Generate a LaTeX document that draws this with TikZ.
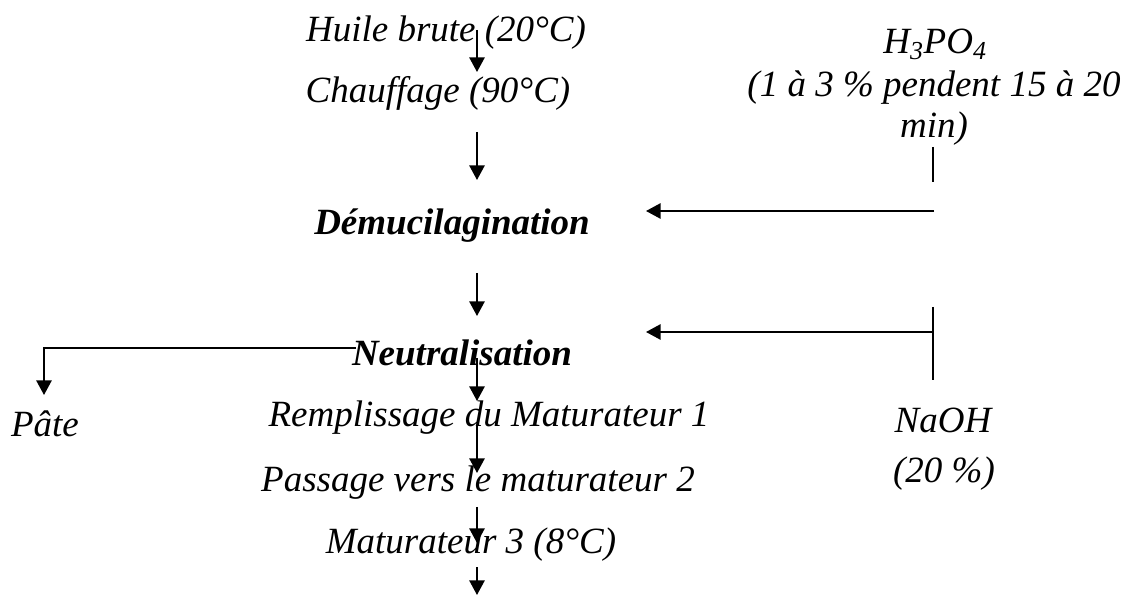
\documentclass[tikz,border=0pt]{standalone}
\usepackage{fontspec}
\setmainfont{Liberation Serif}
\usetikzlibrary{arrows.meta}
\begin{document}
\begin{tikzpicture}[x=0.75pt,y=-0.75pt,
  lbl/.style={anchor=base,inner sep=0pt,font=\fontsize{27.75}{33}\selectfont\itshape},
  key/.style={anchor=base,inner sep=0pt,font=\fontsize{27.75}{33}\selectfont\bfseries\itshape},
  flow/.style={line width=1.4pt,-{Triangle[length=11pt,width=11.5pt]}},
  feed/.style={line width=1.4pt}]
\useasboundingbox (0,0) rectangle (1133,595);

% process steps
\node[lbl] (huile) at (446,42)  {Huile brute (20°C)};
\node[lbl] (chauf) at (438,103) {Chauffage (90°C)};
\node[key] (demu)  at (452,235) {Démucilagination};
\node[key] (neut)  at (462,366) {Neutralisation};
\node[lbl] (rempl) at (489,427) {Remplissage du Maturateur 1};
\node[lbl] (pass)  at (478,492) {Passage vers le maturateur 2};
\node[lbl] (mat)   at (471,553) {Maturateur 3 (8°C)};

% reagents and by-product
\node[lbl] (acid)  at (935,54)  {H\textsubscript{3}PO\textsubscript{4}};
\node[lbl] (acidA) at (934,97)  {(1 à 3 \% pendent 15 à 20};
\node[lbl] (acidB) at (934,138) {min)};
\node[lbl] (soda)  at (943,433) {NaOH};
\node[lbl] (sodaB) at (944,483) {(20 \%)};
\node[lbl] (pate)  at (45,437)  {Pâte};

% main line
\coordinate (s1) at (477,30);  \coordinate (e1) at (477,72);
\coordinate (s2) at (477,132); \coordinate (e2) at (477,180);
\coordinate (s3) at (477,273); \coordinate (e3) at (477,316);
\coordinate (s4) at (477,358); \coordinate (e4) at (477,401);
\coordinate (s5) at (477,425); \coordinate (e5) at (477,473);
\coordinate (s6) at (477,507); \coordinate (e6) at (477,543);
\coordinate (s7) at (477,567); \coordinate (e7) at (477,595);
\foreach \i in {1,...,7} \draw[flow] (s\i) -- (e\i);

% acid feed
\coordinate (tA) at (933,147); \coordinate (tB) at (933,182);
\coordinate (fa) at (934,211); \coordinate (fb) at (646,211);
\draw[feed] (tA) -- (tB);
\draw[flow] (fa) -- (fb);

% soda feed
\coordinate (bA) at (933,307); \coordinate (bB) at (933,380);
\coordinate (ga) at (933,332); \coordinate (gb) at (646,332);
\draw[feed] (bA) -- (bB);
\draw[flow] (ga) -- (gb);

% soapstock outlet
\coordinate (pa) at (356,348); \coordinate (pb) at (44,395);
\draw[flow] (pa) -| (pb);
\end{tikzpicture}
\end{document}
